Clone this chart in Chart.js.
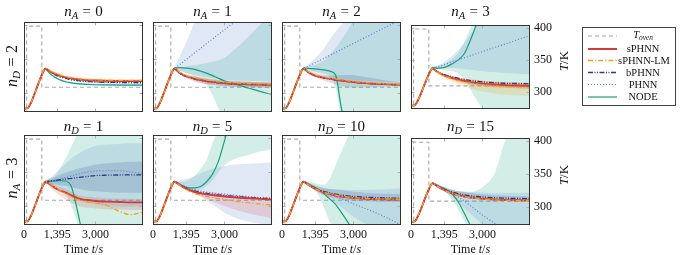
<!DOCTYPE html>
<html>
<head>
<meta charset="utf-8">
<script src="https://cdn.jsdelivr.net/npm/chart.js@4.4.1/dist/chart.umd.min.js"></script>
<style>
  body { margin: 0; background: #fff; width: 682px; height: 255px; position: relative; overflow: hidden;
         font-family: "Liberation Serif", "DejaVu Serif", serif; color: #111; }
  canvas { position: absolute; }
  .c { position: absolute; white-space: nowrap; transform: translate(-50%, -50%); line-height: 1; }
  .r { position: absolute; white-space: nowrap; transform: translate(-50%, -50%) rotate(-90deg); line-height: 1; }
  .sub { font-size: 0.7em; font-style: italic; position: relative; top: 0.3em; }
  .eq { padding: 0 0.28em; }
  #leg { position: absolute; left: 582px; top: 27px; width: 94px; height: 79px; border: 1px solid #444; box-sizing: border-box; }
</style>
</head>
<body>

<script>
// time grid: shared heating phase + tail points
var HEAT_T = [0, 150, 300, 450, 600, 750];
var HEAT_V = [278, 278.5, 287, 300, 314, 327];
var TAIL_T = [900, 1100, 1300, 1500, 1750, 2000, 2250, 2500, 2750, 3000, 3500, 4000, 4500, 5000];

// oven setpoint
var OVEN_T = [0, 110, 750, 5000];
var OVEN_V = [273, 398, 309, 309];

var X_TICKS = [0, 1395, 3000];
var Y_TICKS = [300, 350, 400];

// ---- row 1: n_D = 2, n_A = 0..3 ----
var a0_sPHNN    = [336, 332, 328.5, 326, 323.5, 321.8, 320.6, 319.8, 319.2, 318.8, 318.3, 318.1, 318, 318];
var a0_sPHNN_lo = [335, 330.5, 327, 324.5, 322, 320.3, 319.1, 318.3, 317.7, 317.3, 316.8, 316.6, 316.5, 316.5];
var a0_sPHNN_hi = [337, 333.5, 330, 327.5, 325, 323.3, 322.1, 321.3, 320.7, 320.3, 319.8, 319.6, 319.5, 319.5];
var a0_LM       = [336.5, 333, 329.5, 327, 324.5, 322.8, 321.6, 320.8, 320.2, 319.8, 319.3, 319.1, 319, 319];
var a0_LM_lo    = [335.5, 331.5, 327.5, 325, 322.5, 320.8, 319.6, 318.8, 318.2, 317.8, 317.3, 317.1, 317, 317];
var a0_LM_hi    = [337.5, 334.5, 331.5, 329, 326.5, 324.8, 323.6, 322.8, 322.2, 321.8, 321.3, 321.1, 321, 321];
var a0_bPHNN    = [336, 331.5, 327.5, 324.5, 322, 320, 318.8, 317.8, 317.2, 316.7, 316.2, 315.9, 315.7, 315.6];
var a0_PHNN     = [335.5, 331, 327, 324, 321.5, 319.5, 318.3, 317.3, 316.7, 316.2, 315.7, 315.4, 315.2, 315.1];
var a0_NODE     = [335, 328.5, 323.5, 320, 317, 315.3, 314.2, 313.5, 313, 312.7, 312.4, 312.2, 312.1, 312];
var a0_NODE_lo  = [334, 327, 322, 318.5, 315.5, 313.8, 312.7, 312, 311.5, 311.2, 310.9, 310.7, 310.6, 310.5];
var a0_NODE_hi  = [336, 330, 325, 321.5, 318.5, 316.8, 315.7, 315, 314.5, 314.2, 313.9, 313.7, 313.6, 313.5];

var a1_sPHNN    = [336, 330.5, 326.5, 324, 321.5, 319.5, 318, 316.8, 315.8, 315, 314, 313.3, 312.8, 312.5];
var a1_sPHNN_lo = [335, 329, 324.5, 321.5, 318.5, 316, 314.3, 313, 312, 311.2, 310.2, 309.6, 309.2, 309];
var a1_sPHNN_hi = [337, 332, 328.5, 326.5, 324.5, 323, 321.7, 320.6, 319.6, 318.8, 317.8, 317, 316.4, 316];
var a1_LM       = [336.5, 331.5, 327.5, 325, 322.8, 321, 319.5, 318.3, 317.3, 316.5, 315.3, 314.5, 314, 313.6];
var a1_bPHNN    = [336, 330, 326, 323.5, 321, 319, 317.5, 316.3, 315.3, 314.5, 313.5, 313, 312.6, 312.3];
var a1_bPHNN_lo = [335, 328, 323.5, 320.5, 317.5, 315, 313.5, 312.3, 311.3, 310.5, 309.5, 309, 308.6, 308.3];
var a1_bPHNN_hi = [337, 332, 328.5, 326.5, 324.5, 323, 321.5, 320.3, 319.3, 318.5, 317.5, 317, 316.6, 316.3];
var a1_PHNN     = [336, 341.4, 346.8, 352.2, 359, 365.7, 372.5, 379.2, 386, 392.7, 406, 420, 433, 447];
var a1_PHNN_lo  = [335, 333, 331, 329, 327, 325, 323.5, 322, 321, 320, 319, 318.5, 318, 317.5];
var a1_PHNN_hi  = [337, 352, 368, 383, 404, 420, 435, 445, 455, 465, 475, 485, 495, 505];
var a1_NODE     = [337, 337.5, 337.3, 336.5, 335, 332.5, 329.5, 326, 322, 318.5, 313, 308, 303, 298.5];
var a1_NODE_lo  = [335, 333.5, 331, 328, 324, 320, 312, 298, 278, 262, 250, 245, 240, 238];
var a1_NODE_hi  = [338, 338.5, 339, 340, 341, 342.5, 344, 346, 348, 352, 366, 382, 400, 415];

var a2_sPHNN    = [336, 331, 327.5, 325, 323, 321.5, 320, 318.8, 317.6, 316.6, 315, 314, 313.2, 312.6];
var a2_LM       = [336.5, 332, 328.5, 326, 324, 322.5, 321, 319.7, 318.5, 317.5, 316, 315, 314, 313.5];
var a2_bPHNN    = [336, 330.5, 327, 324.5, 322.5, 321, 319.5, 318.3, 317.2, 316.3, 314.8, 313.8, 313, 312.5];
var a2_bPHNN_lo = [335, 329, 325.5, 322.5, 319, 316, 313, 310.5, 309, 308.5, 309, 309.5, 310, 310.5];
var a2_bPHNN_hi = [337, 332, 329, 327, 326, 326, 326.5, 327, 327, 326.5, 324, 321, 318.5, 316.5];
var a2_PHNN     = [336, 339.5, 343, 346.5, 350.9, 355.3, 359.6, 364, 368.4, 372.8, 381.5, 390.3, 399, 407.8];
var a2_PHNN_lo  = [335, 331, 329, 327, 325, 323, 322, 321, 320, 319, 318, 317.5, 317, 317];
var a2_PHNN_hi  = [337, 342, 348, 355, 365, 378, 390, 400, 410, 420, 430, 440, 450, 460];
var a2_NODE     = [337, 336.5, 336, 335.3, 334.3, 332.5, 327, 278, 250, 240, 235, 235, 235, 235];
var a2_NODE_lo  = [335, 334, 332.5, 331, 329, 325, 308, 262, 245, 240, 235, 235, 235, 235];
var a2_NODE_hi  = [338, 339, 341, 343, 348, 356, 366, 378, 392, 406, 430, 440, 450, 460];

var a3_sPHNN    = [336, 331, 327, 324, 321, 318.5, 316.5, 314.8, 313.5, 312.5, 311, 310, 309.4, 309];
var a3_sPHNN_lo = [335, 329.5, 325, 321.5, 318, 315, 312.5, 310.5, 309, 308, 306.5, 305.5, 305, 304.5];
var a3_sPHNN_hi = [337, 332.5, 329, 326.5, 324, 322, 320.5, 319, 318, 317, 315.5, 314.5, 313.8, 313.5];
var a3_LM       = [336.5, 331, 326.5, 323, 319.5, 317, 315, 313.3, 311.8, 310.5, 308.7, 307.5, 306.6, 306];
var a3_LM_lo    = [335.5, 329.5, 324, 319.5, 315, 311, 307.5, 304.5, 302, 300, 297, 295, 294, 293.5];
var a3_LM_hi    = [337.5, 332.5, 329, 326.5, 324, 322, 320.5, 319, 318, 317, 316, 315, 314.5, 314];
var a3_bPHNN    = [336, 331.5, 328, 325.5, 323, 320.5, 318.7, 317.2, 316, 315, 313.8, 313, 312.6, 312.3];
var a3_PHNN     = [336, 338.5, 341, 343.6, 346.8, 350, 353, 356, 359.4, 362.6, 369, 375, 381.6, 388];
var a3_PHNN_lo  = [335, 336, 337, 337.5, 337, 336, 335, 334, 333, 332, 330.5, 329, 328, 327];
var a3_PHNN_hi  = [337, 340, 344, 349, 357, 366, 377, 390, 403, 415, 430, 440, 450, 460];
var a3_NODE     = [338, 336.5, 337, 339, 344, 350, 360, 381, 406, 440, 480, 500, 500, 500];
var a3_NODE_lo  = [337, 335, 334, 333, 331.5, 328, 318, 303, 287, 273, 260, 255, 250, 250];
var a3_NODE_hi  = [339, 340, 342, 346, 352, 362, 378, 400, 420, 450, 480, 500, 500, 500];

// ---- row 2: n_A = 3, n_D = 1, 5, 10, 15 ----
var d1_sPHNN    = [336, 332, 327, 323.5, 320, 316, 312, 310, 309, 308, 307, 306.5, 306, 306];
var d1_sPHNN_lo = [334, 328, 321, 316, 310, 305, 301, 299, 298, 297, 296, 295.5, 295, 295];
var d1_sPHNN_hi = [337, 335, 331, 328, 325, 321, 317, 315, 314, 313, 312, 311.5, 311, 311];
var d1_LM       = [336, 333, 328, 324, 319, 314, 310, 308, 306.5, 305.5, 301, 293, 288, 292];
var d1_bPHNN    = [335, 337, 338, 339, 340, 341, 342, 343, 344, 345, 345.5, 345.8, 346, 346];
var d1_bPHNN_lo = [333, 333, 332, 331, 330, 328, 326, 324, 323, 322, 321, 320, 320, 320];
var d1_bPHNN_hi = [337, 340, 343, 346, 349, 352, 355, 357, 359, 361, 363, 364, 365, 365];
var d1_PHNN     = [335, 337, 338.5, 340, 342, 344.5, 347, 349, 350.5, 351.5, 352.3, 352, 350, 348];
var d1_PHNN_lo  = [333, 330, 326, 322, 318, 314, 310, 307, 305, 303, 301, 300, 300, 300];
var d1_PHNN_hi  = [337, 342, 348, 354, 362, 370, 376, 381, 385, 388, 390, 391, 392, 392];
var d1_NODE     = [335, 336.5, 337, 337.5, 337, 328, 293, 255, 240, 240, 240, 240, 240, 240];
var d1_NODE_lo  = [333, 332, 330, 326, 318, 300, 275, 250, 240, 240, 240, 240, 240, 240];
var d1_NODE_hi  = [337, 340, 345, 355, 370, 388, 406, 420, 430, 440, 450, 460, 470, 480];

var d5_sPHNN    = [336, 331.5, 327.5, 324, 321, 319, 317.5, 316.5, 315.5, 314.5, 313, 312, 311, 310];
var d5_sPHNN_lo = [335, 330.5, 326, 322, 318, 314.5, 311, 307.5, 304, 300.5, 295, 290, 286, 283];
var d5_sPHNN_hi = [337, 332.5, 329, 326, 323.5, 322, 321, 320, 319, 318, 316.5, 315, 313.5, 312.5];
var d5_LM       = [336, 331, 326.5, 322.5, 319, 316.5, 314.5, 313, 311.5, 310, 307.5, 305.5, 303.5, 302];
var d5_bPHNN    = [336, 332, 328.5, 325.5, 322.5, 320.5, 319, 318, 317, 316, 314.5, 313, 312, 311.5];
var d5_PHNN     = [336, 333, 330, 327, 324.5, 322.5, 321, 320, 319, 318, 316, 314.5, 313, 312];
var d5_PHNN_lo  = [335, 332, 328, 324, 320, 315, 309, 303, 297, 291, 283, 278, 275, 274];
var d5_PHNN_hi  = [337, 338, 339.5, 341, 344, 348, 352, 355, 357, 359, 361, 362, 363, 364];
var d5_NODE     = [336, 333, 329, 327, 327, 329, 336, 347, 366, 395, 460, 500, 500, 500];
var d5_NODE_lo  = [335, 331, 326, 323, 323, 325, 330, 338, 350, 360, 370, 375, 380, 383];
var d5_NODE_hi  = [337, 336, 336, 338, 345, 355, 368, 392, 412, 440, 460, 480, 500, 500];

var d10_sPHNN    = [336, 331.5, 327.5, 324, 320.5, 318, 316, 314.5, 313.3, 312.4, 311.3, 310.6, 310.2, 310];
var d10_LM       = [336, 331.5, 327.5, 324, 320.8, 318.3, 316.3, 314.8, 313.6, 312.7, 311.6, 311, 310.6, 310.4];
var d10_bPHNN    = [336, 332, 328.5, 325, 322, 319.8, 318, 316.6, 315.5, 314.6, 313.5, 312.8, 312.3, 312];
var d10_bPHNN_lo = [335, 330, 325, 321, 317, 314, 312, 310.5, 309.5, 308.5, 307.5, 307, 306.5, 306.5];
var d10_bPHNN_hi = [337, 334, 331.5, 329, 327, 325.5, 324.5, 323.5, 322.5, 321.5, 320, 319, 318.5, 318];
var d10_PHNN     = [336, 332.5, 328.5, 325, 321, 317.5, 314.5, 311, 307.5, 304, 297, 290, 282, 273];
var d10_PHNN_lo  = [335, 331, 326, 321, 316, 311, 305, 299, 292, 285, 275, 265, 255, 250];
var d10_PHNN_hi  = [337, 335, 332, 329, 327, 325.5, 325, 324.5, 324, 324, 324, 324.5, 325, 326];
var d10_NODE     = [336, 333, 329, 325.5, 319, 311, 303, 291, 278, 264, 240, 240, 240, 240];
var d10_NODE_lo  = [335, 331, 326, 318, 300, 278, 265, 255, 250, 245, 240, 240, 240, 240];
var d10_NODE_hi  = [337, 336, 335, 333, 331, 340, 360, 380, 400, 420, 450, 480, 500, 500];

var d15_sPHNN    = [336, 331.5, 327.5, 324, 320.5, 318, 316, 314.6, 313.5, 312.6, 311.5, 310.8, 310.3, 310];
var d15_LM       = [336, 331.5, 327.3, 323.8, 320.2, 317.6, 315.6, 314.2, 313.1, 312.2, 311, 310.3, 309.8, 309.5];
var d15_bPHNN    = [336, 332, 328.5, 325.5, 322.5, 320.3, 318.6, 317.2, 316.2, 315.3, 314.2, 313.5, 313.1, 312.8];
var d15_bPHNN_lo = [335, 330, 326, 322.5, 319, 316.5, 314.7, 313.2, 312, 311.2, 310.5, 310, 309.7, 309.5];
var d15_bPHNN_hi = [337, 334, 331, 328.5, 326, 324, 322.5, 321.3, 320.3, 319.5, 318, 317, 316.5, 316.2];
var d15_PHNN     = [336, 333, 329.5, 326, 321, 315, 309, 302, 295, 288, 276, 265, 255, 245];
var d15_PHNN_lo  = [335, 331, 327, 321, 314, 306, 298, 290, 282, 274, 262, 250, 240, 235];
var d15_PHNN_hi  = [337, 335, 332, 329, 326, 324.5, 323.5, 323, 322.5, 322, 321.5, 321.5, 321.5, 321.5];
var d15_NODE     = [336, 333, 329.5, 326, 319, 307, 290, 272, 255, 240, 240, 240, 240, 240];
var d15_NODE_lo  = [335, 331, 327, 321, 310, 295, 278, 262, 250, 240, 235, 235, 235, 235];
var d15_NODE_hi  = [337, 335, 332, 329, 326, 324, 323, 322, 325, 330, 350, 404, 420, 430];

// panel layout
var COL_X = [24, 153, 282, 411];
var ROW_Y = [22, 135];
var PW = 119, PH = 90;

// series styles (lower order = drawn on top)
var STYLE = {
  sPHNN: { color: '#d23b3b', width: 1.9, dash: [], band: 'rgba(214,50,50,0.16)', order: 6 },
  LM:    { color: '#f3a21c', width: 1.3, dash: [5, 2, 1.2, 2], band: 'rgba(245,160,30,0.2)', order: 5 },
  bPHNN: { color: '#2b3a86', width: 1.3, dash: [5, 1.5, 1, 1.5, 1, 1.5], band: 'rgba(40,55,130,0.16)', order: 7 },
  PHNN:  { color: '#5a82d8', width: 1.2, dash: [1, 2], band: 'rgba(100,140,210,0.2)', order: 8 },
  NODE:  { color: '#1b9e80', width: 1.2, dash: [], band: 'rgba(30,170,130,0.2)', order: 9 }
};

var PANELS = [
  { row: 0, col: 0, s: { sPHNN: [a0_sPHNN, a0_sPHNN_lo, a0_sPHNN_hi], LM: [a0_LM, a0_LM_lo, a0_LM_hi], bPHNN: [a0_bPHNN], PHNN: [a0_PHNN], NODE: [a0_NODE, a0_NODE_lo, a0_NODE_hi] } },
  { row: 0, col: 1, s: { sPHNN: [a1_sPHNN, a1_sPHNN_lo, a1_sPHNN_hi], LM: [a1_LM], bPHNN: [a1_bPHNN, a1_bPHNN_lo, a1_bPHNN_hi], PHNN: [a1_PHNN, a1_PHNN_lo, a1_PHNN_hi], NODE: [a1_NODE, a1_NODE_lo, a1_NODE_hi] } },
  { row: 0, col: 2, s: { sPHNN: [a2_sPHNN], LM: [a2_LM], bPHNN: [a2_bPHNN, a2_bPHNN_lo, a2_bPHNN_hi], PHNN: [a2_PHNN, a2_PHNN_lo, a2_PHNN_hi], NODE: [a2_NODE, a2_NODE_lo, a2_NODE_hi] } },
  { row: 0, col: 3, s: { sPHNN: [a3_sPHNN, a3_sPHNN_lo, a3_sPHNN_hi], LM: [a3_LM, a3_LM_lo, a3_LM_hi], bPHNN: [a3_bPHNN], PHNN: [a3_PHNN, a3_PHNN_lo, a3_PHNN_hi], NODE: [a3_NODE, a3_NODE_lo, a3_NODE_hi] } },
  { row: 1, col: 0, s: { sPHNN: [d1_sPHNN, d1_sPHNN_lo, d1_sPHNN_hi], LM: [d1_LM], bPHNN: [d1_bPHNN, d1_bPHNN_lo, d1_bPHNN_hi], PHNN: [d1_PHNN, d1_PHNN_lo, d1_PHNN_hi], NODE: [d1_NODE, d1_NODE_lo, d1_NODE_hi] } },
  { row: 1, col: 1, s: { sPHNN: [d5_sPHNN, d5_sPHNN_lo, d5_sPHNN_hi], LM: [d5_LM], bPHNN: [d5_bPHNN], PHNN: [d5_PHNN, d5_PHNN_lo, d5_PHNN_hi], NODE: [d5_NODE, d5_NODE_lo, d5_NODE_hi] } },
  { row: 1, col: 2, s: { sPHNN: [d10_sPHNN], LM: [d10_LM], bPHNN: [d10_bPHNN, d10_bPHNN_lo, d10_bPHNN_hi], PHNN: [d10_PHNN, d10_PHNN_lo, d10_PHNN_hi], NODE: [d10_NODE, d10_NODE_lo, d10_NODE_hi] } },
  { row: 1, col: 3, s: { sPHNN: [d15_sPHNN], LM: [d15_LM], bPHNN: [d15_bPHNN, d15_bPHNN_lo, d15_bPHNN_hi], PHNN: [d15_PHNN, d15_PHNN_lo, d15_PHNN_hi], NODE: [d15_NODE, d15_NODE_lo, d15_NODE_hi] } }
];

var TIME = HEAT_T.concat(TAIL_T);
function pts(tail) {
  var v = HEAT_V.concat(tail);
  return TIME.map(function (t, i) { return { x: t, y: v[i] }; });
}

// frame + little inner ticks like pgfplots
var framePlugin = {
  id: 'frame',
  afterDatasetsDraw: function (chart) {
    var ctx = chart.ctx, a = chart.chartArea, sx = chart.scales.x, sy = chart.scales.y;
    var L = Math.round(a.left) + 0.5, R = Math.round(a.right) - 0.5, T = Math.round(a.top) + 0.5, B = Math.round(a.bottom) - 0.5;
    ctx.save();
    ctx.strokeStyle = '#b0b0b0';
    ctx.lineWidth = 1;
    ctx.beginPath();
    X_TICKS.forEach(function (v) {
      var x = Math.round(sx.getPixelForValue(v)) + 0.5;
      ctx.moveTo(x, T); ctx.lineTo(x, T + 3);
      ctx.moveTo(x, B); ctx.lineTo(x, B - 3);
    });
    Y_TICKS.forEach(function (v) {
      var y = Math.round(sy.getPixelForValue(v)) + 0.5;
      ctx.moveTo(L, y); ctx.lineTo(L + 3, y);
      ctx.moveTo(R, y); ctx.lineTo(R - 3, y);
    });
    ctx.stroke();
    ctx.strokeStyle = '#333';
    ctx.strokeRect(L, T, R - L, B - T);
    ctx.restore();
  }
};

var tickFont = { family: 'Liberation Serif', size: 12 };

PANELS.forEach(function (p) {
  var lastCol = p.col === 3, bottom = p.row === 1;
  var padL = 10, padT = 8;
  var W = padL + PW + (lastCol ? 30 : 10);
  var H = padT + PH + (bottom ? 18 : 8);
  var cv = document.createElement('canvas');
  cv.width = W; cv.height = H;
  cv.style.width = W + 'px'; cv.style.height = H + 'px';
  cv.style.left = (COL_X[p.col] - padL) + 'px';
  cv.style.top = (ROW_Y[p.row] - padT) + 'px';
  document.body.appendChild(cv);

  var ds = [];
  // oven setpoint, under the bands
  ds.push({
    data: OVEN_T.map(function (t, i) { return { x: t, y: OVEN_V[i] }; }),
    borderColor: '#a8a8a8', borderWidth: 1.1, borderDash: [4, 3], stepped: 'before', fill: false, order: 50
  });
  // uncertainty bands
  ['sPHNN', 'LM', 'bPHNN', 'PHNN', 'NODE'].forEach(function (k) {
    var s = p.s[k];
    if (s.length < 3) return;
    ds.push({ data: pts(s[1]), borderWidth: 0, borderColor: 'rgba(0,0,0,0)', fill: false, order: 40, cubicInterpolationMode: 'monotone' });
    ds.push({ data: pts(s[2]), borderWidth: 0, borderColor: 'rgba(0,0,0,0)', fill: '-1', backgroundColor: STYLE[k].band, order: 40, cubicInterpolationMode: 'monotone' });
  });
  // mean predictions
  ['sPHNN', 'LM', 'bPHNN', 'PHNN', 'NODE'].forEach(function (k) {
    var st = STYLE[k];
    ds.push({ data: pts(p.s[k][0]), borderColor: st.color, borderWidth: st.width, borderDash: st.dash,
              fill: false, order: st.order, cubicInterpolationMode: 'monotone' });
  });

  new Chart(cv, {
    type: 'line',
    data: { datasets: ds },
    options: {
      responsive: false,
      animation: false,
      devicePixelRatio: 1,
      layout: { padding: { left: padL, top: padT, right: lastCol ? 2 : 10, bottom: bottom ? 4 : 8 } },
      elements: { point: { radius: 0 } },
      plugins: { legend: { display: false }, tooltip: { enabled: false } },
      scales: {
        x: {
          type: 'linear', min: 0, max: 5000,
          grid: { display: false, drawTicks: false }, border: { display: false },
          afterBuildTicks: function (s) { s.ticks = X_TICKS.map(function (v) { return { value: v }; }); },
          afterFit: function (s) { s.height = bottom ? 14 : 0; },
          ticks: { display: bottom, autoSkip: false, maxRotation: 0, padding: 3, color: '#111', font: tickFont,
                   callback: function (v) { return v.toLocaleString('en-US'); } }
        },
        y: {
          position: 'right', min: 273, max: 404,
          grid: { display: false, drawTicks: false }, border: { display: false },
          afterBuildTicks: function (s) { s.ticks = Y_TICKS.map(function (v) { return { value: v }; }); },
          afterFit: function (s) { s.width = lastCol ? 28 : 0; },
          ticks: { display: lastCol, autoSkip: false, padding: 4, color: '#111', font: tickFont }
        }
      }
    },
    plugins: [framePlugin]
  });
});
</script>

<!-- column / row titles -->
<div class="c" style="left:83.5px;top:11px;font-size:15px"><i>n</i><span class="sub">A</span><span class="eq">=</span>0</div>
<div class="c" style="left:212.5px;top:11px;font-size:15px"><i>n</i><span class="sub">A</span><span class="eq">=</span>1</div>
<div class="c" style="left:341.5px;top:11px;font-size:15px"><i>n</i><span class="sub">A</span><span class="eq">=</span>2</div>
<div class="c" style="left:470.5px;top:11px;font-size:15px"><i>n</i><span class="sub">A</span><span class="eq">=</span>3</div>
<div class="c" style="left:83.5px;top:126px;font-size:15px"><i>n</i><span class="sub">D</span><span class="eq">=</span>1</div>
<div class="c" style="left:212.5px;top:126px;font-size:15px"><i>n</i><span class="sub">D</span><span class="eq">=</span>5</div>
<div class="c" style="left:341.5px;top:126px;font-size:15px"><i>n</i><span class="sub">D</span><span class="eq">=</span>10</div>
<div class="c" style="left:470.5px;top:126px;font-size:15px"><i>n</i><span class="sub">D</span><span class="eq">=</span>15</div>

<div class="r" style="left:12px;top:66px;font-size:16px"><i>n</i><span class="sub">D</span><span class="eq">=</span>2</div>
<div class="r" style="left:12px;top:178px;font-size:16px"><i>n</i><span class="sub">A</span><span class="eq">=</span>3</div>

<div class="r" style="left:563px;top:61px;font-size:13px"><i>T</i>/K</div>
<div class="r" style="left:563px;top:175px;font-size:13px"><i>T</i>/K</div>

<div class="c" style="left:83.5px;top:249px;font-size:12px">Time <i>t</i>/<i>s</i></div>
<div class="c" style="left:212.5px;top:249px;font-size:12px">Time <i>t</i>/<i>s</i></div>
<div class="c" style="left:341.5px;top:249px;font-size:12px">Time <i>t</i>/<i>s</i></div>
<div class="c" style="left:470.5px;top:249px;font-size:12px">Time <i>t</i>/<i>s</i></div>

<!-- legend -->
<div id="leg"></div>
<svg style="position:absolute;left:586px;top:27px" width="34" height="80">
  <line x1="2" x2="31" y1="9" y2="9" stroke="#a8a8a8" stroke-width="1.1" stroke-dasharray="4 3"/>
  <line x1="2" x2="31" y1="22" y2="22" stroke="#d23b3b" stroke-width="2"/>
  <line x1="2" x2="31" y1="33.5" y2="33.5" stroke="#f3a21c" stroke-width="1.3" stroke-dasharray="5 2 1.2 2"/>
  <line x1="2" x2="31" y1="45.5" y2="45.5" stroke="#2b3a86" stroke-width="1.3" stroke-dasharray="5 1.5 1 1.5 1 1.5"/>
  <line x1="2" x2="31" y1="57.5" y2="57.5" stroke="#5a82d8" stroke-width="1.2" stroke-dasharray="1 2"/>
  <line x1="2" x2="31" y1="70" y2="70" stroke="#1b9e80" stroke-width="1.2"/>
</svg>
<div class="c" style="left:643px;top:35px;font-size:10.5px"><i>T</i><span class="sub" style="top:0.25em">oven</span></div>
<div class="c" style="left:643px;top:49px;font-size:10.5px">sPHNN</div>
<div class="c" style="left:644px;top:60.5px;font-size:10.5px">sPHNN-LM</div>
<div class="c" style="left:643px;top:72.5px;font-size:10.5px">bPHNN</div>
<div class="c" style="left:643px;top:84.5px;font-size:10.5px">PHNN</div>
<div class="c" style="left:643px;top:97px;font-size:10.5px">NODE</div>

</body>
</html>
